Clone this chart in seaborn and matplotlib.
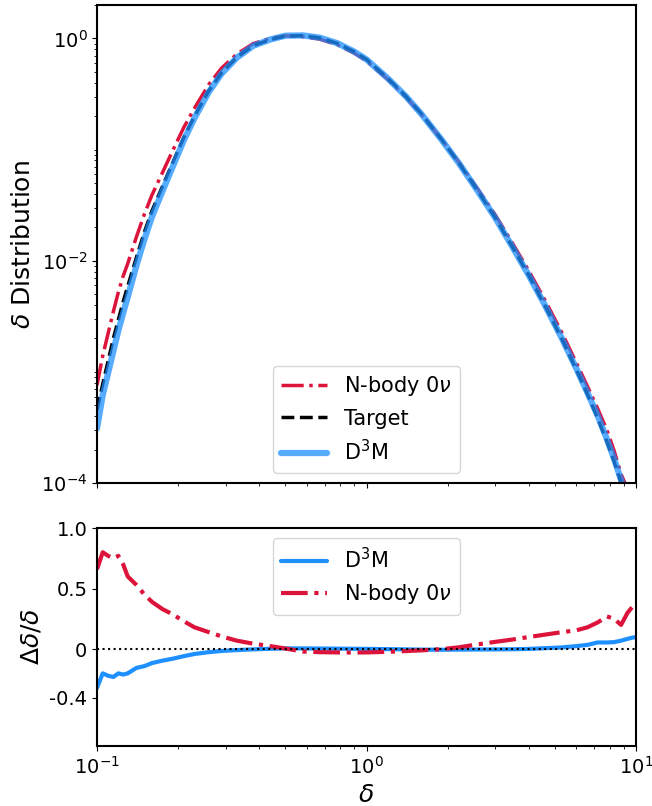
import numpy as np
import pandas as pd
import matplotlib
matplotlib.use('Agg')
import matplotlib.pyplot as plt
import matplotlib.ticker as mticker
import seaborn as sns

sns.set_style('ticks')
plt.rcParams['font.family'] = ['DejaVu Sans']
plt.rcParams['mathtext.fontset'] = 'dejavusans'
for key in ['text.color', 'axes.labelcolor', 'xtick.color', 'ytick.color']:
    plt.rcParams[key] = 'black'

# density contrast bins (shared by both panels)
delta = [0.100, 0.105, 0.110, 0.115, 0.120, 0.125, 0.130, 0.140, 0.150, 0.160,
         0.175, 0.19, 0.21, 0.23, 0.26, 0.29, 0.33, 0.38, 0.44, 0.50,
         0.58, 0.67, 0.78, 0.9, 1.0, 1.2, 1.4, 1.6, 1.9, 2.2,
         2.6, 3.0, 3.5, 4.0, 4.6, 5.3, 6.0, 6.6, 7.2, 7.8,
         8.3, 8.8, 9.3, 9.7, 10.0]

# target distribution
target = [4.57e-4, 7.76e-4, 1.26e-3, 2.0e-3, 2.95e-3, 4.27e-3, 5.89e-3, 0.0107, 0.0182, 0.0282,
          0.0468, 0.0741, 0.129, 0.200, 0.339, 0.490, 0.676, 0.861, 0.977, 1.052,
          1.059, 1.012, 0.902, 0.759, 0.646, 0.437, 0.302, 0.209, 0.123, 0.0759,
          0.0417, 0.0245, 0.0130, 7.38e-3, 3.92e-3, 1.99e-3, 1.05e-3, 6.30e-4, 3.85e-4, 2.35e-4,
          1.55e-4, 1.0e-4, 6.8e-5, 5.2e-5, 4.3e-5]

# relative differences, bottom panel
d3m_diff = [-0.32, -0.20, -0.22, -0.23, -0.20, -0.21, -0.20, -0.155, -0.14, -0.115,
            -0.095, -0.08, -0.058, -0.04, -0.025, -0.015, -0.008, -0.002, 0.003, 0.006,
            0.006, 0.005, 0.004, 0.003, 0.002, 0.0, -0.002, -0.004, -0.005, -0.004,
            -0.003, -0.002, -0.001, 0.002, 0.008, 0.014, 0.025, 0.035, 0.055, 0.055,
            0.058, 0.07, 0.085, 0.095, 0.10]
nbody_diff = [0.66, 0.80, 0.77, 0.75, 0.77, 0.70, 0.60, 0.53, 0.45, 0.39,
              0.33, 0.29, 0.23, 0.18, 0.14, 0.105, 0.07, 0.045, 0.025, 0.005,
              -0.02, -0.025, -0.027, -0.028, -0.027, -0.022, -0.016, -0.01, 0.0, 0.015,
              0.04, 0.06, 0.08, 0.10, 0.12, 0.14, 0.155, 0.18, 0.22, 0.27,
              0.25, 0.20, 0.30, 0.35, 0.38]

df = pd.DataFrame({'delta': delta, 'target': target,
                   'd3m_diff': d3m_diff, 'nbody_diff': nbody_diff})
df['d3m'] = df['target'] * (1 + df['d3m_diff'])
df['nbody'] = df['target'] * (1 + df['nbody_diff'])

red = '#DC143C'
blue = '#1E90FF'

fig = plt.figure(figsize=(6.52, 8.06), dpi=100)
ax1 = fig.add_axes([0.1488, 0.4007, 0.8267, 0.5931])
ax2 = fig.add_axes([0.1488, 0.0744, 0.8267, 0.2705], sharex=ax1)

# top panel - distributions
sns.lineplot(data=df, x='delta', y='nbody', ax=ax1, color=red, lw=2.5,
             linestyle='-.', label=r'N-body 0$\nu$', errorbar=None)
sns.lineplot(data=df, x='delta', y='target', ax=ax1, color='black', lw=2.5,
             linestyle='--', label='Target', errorbar=None)
sns.lineplot(data=df, x='delta', y='d3m', ax=ax1, color=blue, lw=4.5, alpha=0.75,
             label=r'D$^3$M', errorbar=None)
ax1.set_xscale('log')
ax1.set_yscale('log')
ax1.set_xlim(0.1, 10)
ax1.set_ylim(1e-4, 2)
ax1.yaxis.set_major_locator(mticker.FixedLocator([1e-4, 1e-2, 1]))
ax1.yaxis.set_minor_locator(mticker.LogLocator(base=10, subs=np.arange(1, 10) * 1.0, numticks=100))
ax1.yaxis.set_minor_formatter(mticker.NullFormatter())
ax1.set_xlabel('')
ax1.set_ylabel(r'$\delta$ Distribution', fontsize=18)
ax1.tick_params(labelbottom=False)
ax1.legend(loc='lower center', fontsize=15, frameon=True, handlelength=2.2)

# bottom panel - relative difference
sns.lineplot(data=df, x='delta', y='d3m_diff', ax=ax2, color=blue, lw=3,
             label=r'D$^3$M', errorbar=None)
sns.lineplot(data=df, x='delta', y='nbody_diff', ax=ax2, color=red, lw=3,
             linestyle='-.', label=r'N-body 0$\nu$', errorbar=None)
ax2.axhline(0, color='black', ls=':', lw=1.5)
ax2.set_ylim(-0.8, 1.0)
ax2.set_yticks([-0.4, 0, 0.5, 1.0])
ax2.set_yticklabels(['-0.4', '0', '0.5', '1.0'])
ax2.set_xlabel(r'$\delta$', fontsize=18)
ax2.set_ylabel(r'$\Delta\delta/\delta$', fontsize=18)
ax2.legend(loc='upper center', fontsize=15, frameon=True, handlelength=2.2)

for ax in (ax1, ax2):
    ax.tick_params(which='both', direction='out', labelsize=14)
    ax.tick_params(which='major', length=3.5, width=0.8)
    ax.tick_params(which='minor', length=2, width=0.6)
    for s in ax.spines.values():
        s.set_linewidth(1.5)
        s.set_color('black')

plt.savefig('out.png', dpi=100)
